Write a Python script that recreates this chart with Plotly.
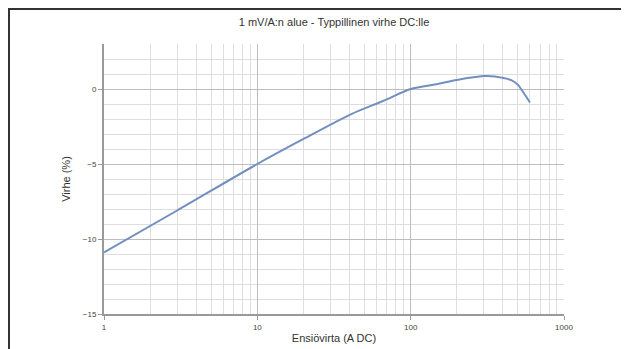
import plotly.graph_objects as go

current_a = [1, 3, 10, 20, 41, 66, 100, 150, 200, 300, 354, 456, 500, 530, 600]
error_pct = [-10.9, -8.1, -5.0, -3.33, -1.67, -0.8, 0.0, 0.33, 0.6, 0.86, 0.83, 0.57, 0.29, -0.07, -0.9]

x_ticks = [1, 10, 100, 1000]
x_labels = ["1", "10", "100", "1000"]
y_ticks = [0, -5, -10, -15]

title_text = "1 mV/A:n alue - Typpillinen virhe DC:lle"
x_title = "Ensiövirta (A DC)"
y_title = "Virhe (%)"

FONT = "Liberation Sans, Arial, sans-serif"

L, R, T, B = 96, 73, 36, 43
PW, PH = 629 - L - R, 349 - T - B

fig = go.Figure()
fig.add_trace(go.Scatter(
    x=current_a, y=error_pct, mode="lines",
    line=dict(color="#7190c0", width=2, shape="spline", smoothing=0.8),
    showlegend=False, hoverinfo="x+y"))

fig.update_layout(
    width=629, height=349,
    margin=dict(l=L, r=R, t=T, b=B),
    paper_bgcolor="white", plot_bgcolor="white",
    font=dict(family=FONT, color="#333"),
    title=dict(text=title_text, x=0.5, xref="paper", y=(349 - 14) / 349, yref="container",
               xanchor="center", yanchor="middle",
               font=dict(size=11, color="#333", family=FONT)),
    xaxis=dict(type="log", range=[0, 3], tickvals=x_ticks, ticktext=x_labels,
               showgrid=True, gridcolor="#bdbdbd", gridwidth=1,
               minor=dict(dtick="D1", showgrid=True, gridcolor="#dedede", gridwidth=1,
                          ticks=""),
               showline=True, linecolor="#999", linewidth=2,
               ticks="outside", ticklen=4, tickcolor="#999",
               tickfont=dict(size=8, color="#444", family=FONT),
               title=dict(text=x_title, font=dict(size=11, color="#333"), standoff=4),
               zeroline=False),
    yaxis=dict(range=[-15, 3], tickvals=y_ticks, showgrid=True, gridcolor="#bdbdbd",
               gridwidth=1,
               minor=dict(dtick=1, showgrid=True, gridcolor="#dedede", gridwidth=1, ticks=""),
               showline=True, linecolor="#999", linewidth=2,
               ticks="outside", ticklen=4, tickcolor="#999",
               tickfont=dict(size=8, color="#444", family=FONT),
               title=dict(text=y_title, font=dict(size=11, color="#333"), standoff=10),
               zeroline=False),
)

# outer frame of the figure (figure-pixel positions converted to paper units)
fx0, fx1, fy0, fy1 = 1, 616, 1, 380
fig.add_shape(type="rect", xref="paper", yref="paper",
              x0=(fx0 - L) / PW, x1=(fx1 - L) / PW,
              y0=(349 - B - fy1) / PH, y1=(349 - B - fy0) / PH,
              line=dict(color="#333", width=2), fillcolor="rgba(0,0,0,0)", layer="below")

fig.write_html("out.html")
